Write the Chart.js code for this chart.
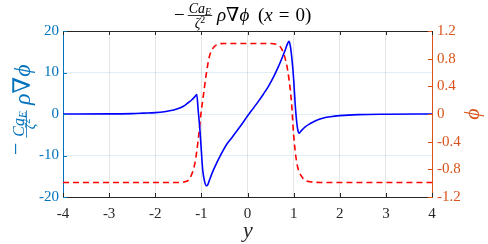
<!DOCTYPE html>
<html>
<head>
<meta charset="utf-8">
<script src="https://cdn.jsdelivr.net/npm/chart.js@4.4.1/dist/chart.umd.min.js"></script>
<style>
  html, body { margin: 0; padding: 0; background: #fff; }
  canvas { display: block; }
</style>
</head>
<body>
<canvas id="chart" width="488" height="244"></canvas>
<script>
"use strict";

// ~ Data
const xTicks = [-4, -3, -2, -1, 0, 1, 2, 3, 4];
const leftTicks = [-20, -10, 0, 10, 20];
const rightTicks = [-1.2, -0.8, -0.4, 0, 0.4, 0.8, 1.2];

// blue solid curve: -Ca_E/zeta^2 rho grad phi
const forceY = [-4, -3, -2.5, -2.26, -2, -1.8, -1.6, -1.5, -1.4, -1.3, -1.2, -1.14, -1.1,
  -1.07, -1.03, -1.0, -0.97, -0.93, -0.89, -0.86, -0.82, -0.77, -0.66, -0.56, -0.45, -0.34,
  -0.24, -0.12, 0, 0.12, 0.24, 0.34, 0.45, 0.56, 0.67, 0.76, 0.82, 0.87, 0.9, 0.93, 0.97,
  1.0, 1.03, 1.06, 1.09, 1.12, 1.16, 1.25, 1.36, 1.5, 1.65, 1.8, 2.0, 2.4, 3, 4];
const forceVal = [0, 0.02, 0.1, 0.2, 0.32, 0.55, 0.95, 1.3, 1.8, 2.6, 3.5, 4.2, 4.7,
  1.0, -4.0, -9.0, -13.6, -16.3, -17.3, -17.0, -15.8, -14.3, -11.6, -9.4, -7.3, -5.7,
  -4.2, -2.4, -0.5, 1.3, 3.1, 4.7, 6.6, 8.8, 11.4, 13.8, 15.5, 17.0, 17.5, 16.3, 12.5,
  8.5, 3.0, -1.2, -3.8, -4.6, -4.1, -3.1, -2.3, -1.5, -0.95, -0.65, -0.4, -0.15, -0.05, 0];

// red dashed curve: phi
const phiY = [-4, -1.5, -1.36, -1.25, -1.14, -1.07, -1.01, -0.95, -0.9, -0.83, -0.75, -0.67,
  -0.5, 0.5, 0.62, 0.74, 0.84, 0.9, 0.955, 1.0, 1.07, 1.18, 1.36, 1.6, 4];
const phiVal = [-0.99, -0.99, -0.98, -0.93, -0.71, -0.38, 0.0, 0.3, 0.55, 0.82, 0.95, 1.0,
  1.02, 1.02, 1.01, 0.94, 0.74, 0.5, 0.16, -0.3, -0.71, -0.91, -0.98, -0.99, -0.99];

const BLUE_AX = "#0072BD";
const ORANGE_AX = "#D95319";
const DARK = "#262626";
const SERIF = '"Liberation Serif", "DejaVu Serif", serif';
const PHI = "\u03D5";

function font(size, italic) {
  return (italic ? "italic " : "") + size + "px " + SERIF;
}

// draw a row of text pieces, each with its own font
function runs(ctx, parts, x, y) {
  parts.forEach((p) => {
    ctx.font = font(p.s, p.i);
    x += p.g || 0;
    ctx.fillText(p.t, x, y + (p.dy || 0));
    x += ctx.measureText(p.t).width;
  });
  return x;
}

function runsWidth(ctx, parts) {
  let w = 0;
  parts.forEach((p) => {
    ctx.font = font(p.s, p.i);
    w += (p.g || 0) + ctx.measureText(p.t).width;
  });
  return w;
}

function frac(ctx, num, den, cx, barY, numBase, denBase) {
  const wn = runsWidth(ctx, num);
  const wd = runsWidth(ctx, den);
  runs(ctx, num, cx - wn / 2, numBase);
  runs(ctx, den, cx - wd / 2, denBase);
  const w = Math.max(wn, wd) + 2;
  ctx.fillRect(cx - w / 2, barY, w, 0.8);
}

const mathLabels = {
  id: "mathLabels",
  afterDraw(chart) {
    const ctx = chart.ctx;
    const a = chart.chartArea;
    const sx = chart.scales.x, sy = chart.scales.y, sy1 = chart.scales.y1;
    ctx.save();

    // top box line + inward ticks
    ctx.lineWidth = 1;
    ctx.strokeStyle = DARK;
    ctx.beginPath();
    ctx.moveTo(a.left, a.top + 0.5);
    ctx.lineTo(a.right, a.top + 0.5);
    xTicks.forEach((v) => {
      const px = Math.round(sx.getPixelForValue(v)) + 0.5;
      ctx.moveTo(px, a.bottom);
      ctx.lineTo(px, a.bottom - 4);
      ctx.moveTo(px, a.top);
      ctx.lineTo(px, a.top + 4);
    });
    ctx.stroke();
    ctx.strokeStyle = BLUE_AX;
    ctx.beginPath();
    leftTicks.forEach((v) => {
      const py = Math.round(sy.getPixelForValue(v)) + 0.5;
      ctx.moveTo(a.left, py);
      ctx.lineTo(a.left + 4, py);
    });
    ctx.stroke();
    ctx.strokeStyle = ORANGE_AX;
    ctx.beginPath();
    rightTicks.forEach((v) => {
      const py = Math.round(sy1.getPixelForValue(v)) + 0.5;
      ctx.moveTo(a.right - 4, py);
      ctx.lineTo(a.right, py);
    });
    ctx.stroke();

    ctx.textAlign = "left";
    ctx.textBaseline = "alphabetic";

    // title
    ctx.fillStyle = "#000";
    runs(ctx, [{ t: "\u2212", s: 19 }], 174, 21);
    frac(ctx,
      [{ t: "Ca", s: 14, i: 1 }, { t: "E", s: 10, i: 1, dy: 2 }],
      [{ t: "\u03B6", s: 14, i: 1 }, { t: "2", s: 10, dy: -5 }],
      200, 15, 13, 28);
    runs(ctx, [{ t: "\u03C1", s: 19, i: 1 }, { t: "\u2207", s: 19 }, { t: PHI, s: 19, i: 1 }], 217, 21);
    runs(ctx, [{ t: "(", s: 19 }, { t: "x", s: 19, i: 1 }, { t: "=", s: 19, g: 6 },
      { t: "0", s: 19, g: 6 }, { t: ")", s: 19 }], 258, 21);

    // left axis label (rotated)
    ctx.save();
    ctx.fillStyle = BLUE_AX;
    ctx.translate(30, 155);
    ctx.rotate(-Math.PI / 2);
    runs(ctx, [{ t: "\u2212", s: 22 }], 0, -7);
    frac(ctx,
      [{ t: "Ca", s: 16, i: 1 }, { t: "E", s: 11, i: 1, dy: 2 }],
      [{ t: "\u03B6", s: 14, i: 1 }, { t: "2", s: 10, dy: -5 }],
      31, -4, -6, 5);
    runs(ctx, [{ t: "\u03C1", s: 24, i: 1 }, { t: "\u2207", s: 24 }, { t: PHI, s: 24, i: 1 }], 50, 0);
    ctx.restore();

    // right axis label
    ctx.save();
    ctx.fillStyle = ORANGE_AX;
    ctx.translate(479, 114);
    ctx.rotate(-Math.PI / 2);
    ctx.textAlign = "center";
    ctx.font = font(22, true);
    ctx.fillText(PHI, 0, 0);
    ctx.restore();

    // x axis label
    ctx.fillStyle = DARK;
    ctx.textAlign = "center";
    ctx.font = font(22, true);
    ctx.fillText("y", 248, 237);

    ctx.restore();
  },
};

const tickFont = { family: SERIF, size: 15 };

new Chart(document.getElementById("chart"), {
  type: "line",
  data: {
    datasets: [
      {
        data: forceY.map((y, i) => ({ x: y, y: forceVal[i] })),
        yAxisID: "y",
        borderColor: "#0000FF",
        borderWidth: 1.6,
        pointRadius: 0,
        cubicInterpolationMode: "monotone",
      },
      {
        data: phiY.map((y, i) => ({ x: y, y: phiVal[i] })),
        yAxisID: "y1",
        borderColor: "#FF0000",
        borderWidth: 1.6,
        borderDash: [6, 4],
        pointRadius: 0,
        cubicInterpolationMode: "monotone",
      },
    ],
  },
  options: {
    responsive: false,
    devicePixelRatio: 1,
    animation: false,
    layout: { padding: { top: 31, left: 0, right: 0, bottom: 0 } },
    plugins: { legend: { display: false }, tooltip: { enabled: false } },
    scales: {
      x: {
        type: "linear",
        min: -4,
        max: 4,
        afterBuildTicks: (s) => { s.ticks = xTicks.map((v) => ({ value: v })); },
        afterFit: (s) => { s.height = 47; },
        ticks: { color: DARK, font: tickFont, padding: 8, maxRotation: 0, callback: (v) => String(v) },
        grid: { color: "rgba(38,38,38,0.12)", drawTicks: false },
        border: { color: DARK },
      },
      y: {
        position: "left",
        min: -20,
        max: 20,
        afterBuildTicks: (s) => { s.ticks = leftTicks.map((v) => ({ value: v })); },
        afterFit: (s) => { s.width = 63; },
        ticks: { color: BLUE_AX, font: tickFont, padding: 4, callback: (v) => String(v) },
        grid: { color: "rgba(0,114,189,0.12)", drawTicks: false },
        border: { color: BLUE_AX },
      },
      y1: {
        position: "right",
        min: -1.2,
        max: 1.2,
        afterBuildTicks: (s) => { s.ticks = rightTicks.map((v) => ({ value: v })); },
        afterFit: (s) => { s.width = 56; },
        ticks: { color: ORANGE_AX, font: tickFont, padding: 5, callback: (v) => String(v) },
        grid: { drawOnChartArea: false, drawTicks: false },
        border: { color: ORANGE_AX },
      },
    },
  },
  plugins: [mathLabels],
});
</script>
</body>
</html>
